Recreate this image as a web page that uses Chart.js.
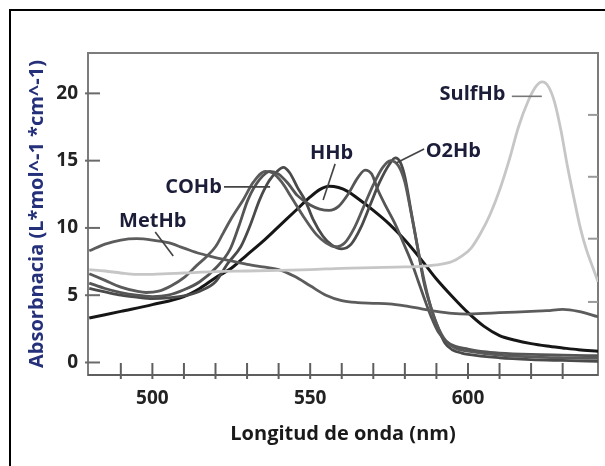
<!DOCTYPE html>
<html><head><meta charset="utf-8">
<script src="https://cdn.jsdelivr.net/npm/chart.js@4/dist/chart.umd.min.js"></script>
<style>
html,body{margin:0;padding:0;background:#fff;}
#wrap{position:relative;width:605px;height:466px;overflow:hidden;background:#fff;}
#frame{position:absolute;left:9px;top:9px;width:700px;height:600px;border-left:2px solid #000;border-top:2px solid #000;}
canvas{position:absolute;left:0;top:0;}
</style></head><body>
<div id="wrap"><div id="frame"></div><canvas id="c" width="605" height="466"></canvas></div>
<script>
// ---- axis ticks ----
const X_TICKS = [500, 550, 600];
const X_MINOR = [490, 500, 510, 520, 530, 540, 550, 560, 570, 580, 590, 600, 610, 620, 630];
const Y_TICKS = [0, 5, 10, 15, 20];
const Y_RIGHT_MINOR = [4.5, 9.2, 13.8, 18.4];

// ---- series ----
const SERIES_NAMES = ['SulfHb', 'MetHb', 'COHb', 'Hb', 'O2Hb', 'HHb'];

const SULFHB_NM  = [480,485,490,495,500,505,510,520,530,540,550,560,570,580,585,590,595,598,601,604,607,610,613,616,619,621.5,623.5,625.5,627.5,629.5,631.5,633.5,635.5,637.5,639.5,641.2];
const SULFHB_ABS = [6.9,6.8,6.65,6.55,6.55,6.6,6.65,6.75,6.8,6.85,6.9,7.0,7.05,7.1,7.15,7.25,7.5,7.9,8.5,9.6,11.0,12.8,15.0,17.5,19.4,20.5,20.85,20.5,19.3,17.2,14.6,12.3,10.1,8.4,7.1,6.0];

const METHB_NM  = [480,485,490,495,500,505,510,515,520,525,530,535,540,545,550,555,560,565,570,575,580,585,590,595,600,605,610,615,620,625,630,635,641.2];
const METHB_ABS = [8.3,8.8,9.1,9.2,9.1,8.9,8.5,8.1,7.8,7.55,7.3,7.1,6.9,6.4,5.7,5.0,4.6,4.45,4.4,4.35,4.2,4.0,3.8,3.65,3.6,3.65,3.7,3.75,3.8,3.85,3.95,3.8,3.4];

const COHB_NM  = [480,485,490,495,500,505,510,515,520,524.6,527.5,530.3,534,537.3,540,543,546,550,553,556,559,562,565,567.4,569.5,571.5,574,576.9,579.5,582.2,584.3,586.4,588.5,590.5,593,596,600,605,610,620,630,641.2];
const COHB_ABS = [5.9,5.5,5.2,5.0,4.9,5.0,5.4,6.0,7.0,8.4,10.2,12.1,13.6,14.2,14.0,13.3,12.4,11.7,11.4,11.3,11.6,12.5,13.7,14.3,14.0,12.8,11.6,10.3,8.9,7.4,6.0,4.6,3.3,2.3,1.6,1.2,1.0,0.8,0.7,0.6,0.55,0.5];

const HB_NM  = [480,485,490,495,498,502,506,510,514,517.3,520,522.4,525,528.8,532,535.8,538,541,544,548,552,555,558,561,564,567,570,573,575.5,578,580,582,584,586,588,590,593,596,600,610,620,630,641.2];
const HB_ABS = [6.6,6.1,5.6,5.3,5.2,5.3,5.7,6.3,7.2,7.9,8.6,9.6,10.7,12.1,13.4,14.2,14.1,13.4,12.3,10.8,9.5,8.9,8.6,8.9,10.0,11.6,13.2,14.5,15.0,14.6,13.4,11.1,8.6,6.2,4.3,2.9,1.6,1.05,0.85,0.55,0.42,0.35,0.3];

const O2HB_NM  = [480,485,490,495,500,505,510,515,520,524,528,531,534,537,539.5,541.5,543.5,546,548.5,551,554,557,560,563,566,569,572,575,577,578.5,580,582,584,586,588.5,590.5,592.7,595,598,600,610,620,630,641.2];
const O2HB_ABS = [5.5,5.25,5.0,4.85,4.75,4.8,4.95,5.3,6.0,7.4,8.6,10.2,12.1,13.5,14.2,14.5,14.1,13.0,12.0,10.6,9.4,8.7,8.45,8.8,10.0,11.7,13.4,14.7,15.2,14.9,13.8,11.2,8.6,6.0,3.9,2.6,1.45,0.95,0.7,0.6,0.35,0.22,0.15,0.08];

const HHB_NM  = [480,490,500,510,515,520,525,530,535,540,545,550,553,556,559,562,565,570,575,580,585,590,595,600,605,610,615,620,625,630,635,641.2];
const HHB_ABS = [3.3,3.8,4.3,4.9,5.5,6.3,7.0,8.0,9.0,10.1,11.2,12.3,12.85,13.1,13.0,12.7,12.2,11.3,10.3,9.1,7.7,6.2,4.9,3.7,2.7,2.0,1.65,1.4,1.22,1.08,0.95,0.84];

const X_MIN = 479.6, X_MAX = 641.2, Y_MIN = -0.93, Y_MAX = 23.0;

function pts(xs, ys){ return xs.map((v,i)=>({x:v, y:ys[i]})); }

const FONT = '"Open Sans", "DejaVu Sans", sans-serif';

// annotations (data coordinates)
const NOTES = [
  {text:'SulfHb', tx:611.9, ty:19.9, align:'right', from:[613.9,19.78], to:[623.4,19.78]},
  {text:'O2Hb',   tx:586.6, ty:15.67, align:'left', from:[586.1,15.87], to:[577.4,14.85]},
  {text:'HHb',    tx:556.8, ty:15.58, align:'center', from:[557.9,14.76], to:[554.1,12.08]},
  {text:'COHb',   tx:522.0, ty:13.05, align:'right', from:[522.7,13.05], to:[537.3,13.05]},
  {text:'MetHb',  tx:500.1, ty:10.47, align:'center', from:[500.9,9.7], to:[506.6,7.92]}
];

const decor = {
  id:'decor',
  beforeDatasetsDraw(chart){
    const {ctx, chartArea:a, scales:{x,y}} = chart;
    ctx.save();
    ctx.strokeStyle = '#7c7c7c';
    ctx.lineWidth = 2;
    ctx.strokeRect(a.left, a.top, a.right-a.left, a.bottom-a.top);
    ctx.strokeStyle = '#5e5e5e';
    ctx.beginPath(); ctx.moveTo(a.left, a.bottom); ctx.lineTo(a.right, a.bottom); ctx.stroke();
    X_MINOR.forEach(v=>{
      const px = x.getPixelForValue(v);
      ctx.beginPath(); ctx.moveTo(px, a.bottom+4); ctx.lineTo(px, a.bottom-12); ctx.stroke();
    });
    ctx.strokeStyle = '#6a6a6a';
    Y_TICKS.forEach(v=>{
      const py = y.getPixelForValue(v);
      ctx.beginPath(); ctx.moveTo(a.left-3, py); ctx.lineTo(a.left+12, py); ctx.stroke();
    });
    ctx.strokeStyle = '#9a9a9a';
    Y_RIGHT_MINOR.forEach(v=>{
      const py = y.getPixelForValue(v);
      ctx.beginPath(); ctx.moveTo(a.right-10, py); ctx.lineTo(a.right, py); ctx.stroke();
    });
    ctx.restore();
  },
  afterDatasetsDraw(chart){
    const {ctx, scales:{x,y}} = chart;
    ctx.save();
    ctx.lineWidth = 1.6;
    ctx.font = 'bold 20px ' + FONT;
    ctx.textBaseline = 'middle';
    NOTES.forEach(n=>{
      ctx.strokeStyle = n.text === 'SulfHb' ? '#777' : '#444';
      ctx.beginPath();
      ctx.moveTo(x.getPixelForValue(n.from[0]), y.getPixelForValue(n.from[1]));
      ctx.lineTo(x.getPixelForValue(n.to[0]), y.getPixelForValue(n.to[1]));
      ctx.stroke();
      ctx.fillStyle = '#1c1d38';
      ctx.textAlign = n.align;
      ctx.fillText(n.text, x.getPixelForValue(n.tx), y.getPixelForValue(n.ty));
    });
    ctx.restore();
  }
};

const ds = (label, xs, ys, color, w) => ({label, data: pts(xs, ys), borderColor: color, borderWidth: w, pointRadius: 0, fill: false, cubicInterpolationMode: 'monotone'});

new Chart(document.getElementById('c'), {
  type: 'line',
  data: {
    datasets: [
      ds(SERIES_NAMES[0], SULFHB_NM, SULFHB_ABS, '#c6c6c6', 2.8),
      ds(SERIES_NAMES[1], METHB_NM, METHB_ABS, '#5c5c5c', 2.8),
      ds(SERIES_NAMES[2], COHB_NM, COHB_ABS, '#555555', 2.8),
      ds(SERIES_NAMES[3], HB_NM, HB_ABS, '#5a5a5a', 2.8),
      ds(SERIES_NAMES[4], O2HB_NM, O2HB_ABS, '#4a4a4a', 2.8),
      ds(SERIES_NAMES[5], HHB_NM, HHB_ABS, '#161616', 3)
    ]
  },
  options: {
    responsive: false,
    animation: false,
    devicePixelRatio: 1,
    layout: {padding: {top: 53, right: 7, left: 0, bottom: 0}},
    plugins: {legend: {display: false}, tooltip: {enabled: false}},
    scales: {
      x: {
        type: 'linear', min: X_MIN, max: X_MAX,
        afterBuildTicks: s => { s.ticks = X_TICKS.map(v => ({value: v})); },
        afterFit: s => { s.height = 91; },
        grid: {display: false, drawTicks: false},
        border: {display: false},
        ticks: {padding: 12, autoSkip: false, maxRotation: 0, color: '#222', font: {family: FONT, weight: 'bold', size: 19}},
        title: {display: true, text: 'Longitud de onda (nm)', color: '#1a1a1a', font: {family: FONT, weight: 'bold', size: 20}, padding: {top: 0, bottom: 20}}
      },
      y: {
        type: 'linear', min: Y_MIN, max: Y_MAX,
        afterBuildTicks: s => { s.ticks = Y_TICKS.map(v => ({value: v})); },
        afterFit: s => { s.width = 88; },
        grid: {display: false, drawTicks: false},
        border: {display: false},
        ticks: {padding: 10, color: '#222', font: {family: FONT, weight: 'bold', size: 19}},
        title: {display: true, text: 'Absorbnacia (L*mol^-1 *cm^-1)', color: '#25307a', font: {family: FONT, weight: 'bold', size: 20}, padding: {top: 25, bottom: 0}}
      }
    }
  },
  plugins: [decor]
});
</script>
</body></html>
